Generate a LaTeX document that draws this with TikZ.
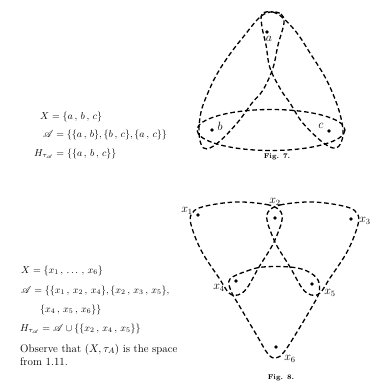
\documentclass[tikz,border=0pt]{standalone}
\usepackage{amsmath,amssymb,mathrsfs}
\begin{document}
\begin{tikzpicture}[x=1pt,y=-1pt,
  dsh/.style={line width=1.3pt, dash pattern=on 4.6pt off 2.8pt},
  pt/.style={circle, fill=black, inner sep=0pt, minimum size=3.6pt},
  lbl/.style={font=\fontsize{12}{14}\selectfont, inner sep=0pt},
  txt/.style={font=\fontsize{10}{12}\selectfont, anchor=base west, inner sep=0pt},
  ptxt/.style={font=\fontsize{11}{13}\selectfont, anchor=base west, inner sep=0pt},
  figlbl/.style={font=\fontsize{7}{8}\selectfont\bfseries, inner sep=0pt}]
\useasboundingbox[fill=white] (0,0) rectangle (374,383);

% ---------- texts, top ----------
\node[txt] (t1) at (40,119) {$X=\{a\,,\,b\,,\,c\}$};
\node[txt] (t2) at (43,137) {$\mathscr{A}=\{\{a\,,\,b\},\{b\,,\,c\},\{a\,,\,c\}\}$};
\node[txt] (t3) at (34,156) {$H_{\tau_{\mathscr{A}}}=\{\{a\,,\,b\,,\,c\}\}$};

% ---------- texts, bottom ----------
\node[txt] (u1) at (21,273) {$X=\{x_1\,,\,\ldots\,,\,x_6\}$};
\node[txt] (u2) at (21,293) {$\mathscr{A}=\{\{x_1\,,\,x_2\,,\,x_4\},\{x_2\,,\,x_3\,,\,x_5\},$};
\node[txt] (u3) at (40,312) {$\{x_4\,,\,x_5\,,\,x_6\}\}$};
\node[txt] (u4) at (20,331) {$H_{\tau_{\mathscr{A}}}=\mathscr{A}\cup\{\{x_2\,,\,x_4\,,\,x_5\}\}$};
\node[ptxt] (u5) at (20,352) {Observe that $(X,\tau_A)$ is the space};
\node[ptxt] (u6) at (20,365) {from 1.11.};

% ---------- Fig. 7 ----------
\draw[dsh] plot[smooth cycle, tension=0.6] coordinates {
 (270,12) (281,14) (284,23) (278,45) (273,68) (263,90) (252,103) (238,122) (220,141)
 (207,149) (201,144) (199,130) (201,112) (207,95) (217,74) (230,54) (244,36) (259,18)};
\draw[dsh] plot[smooth cycle, tension=0.6] coordinates {
 (262,14) (273,12) (283,18) (297,33) (310,53) (325,77) (335,99) (341,118)
 (343,135) (339,146) (333,148) (321,141) (302,122) (290,103) (281,90) (270,68) (266,45) (262,27)};
\draw[dsh] (271,130) ellipse [x radius=74, y radius=20.5];

\node[pt] (a) at (267,32) {};
\node[pt] (b) at (212,130) {};
\node[pt] (c) at (329,131) {};
\node[lbl] (la) at (269,39) {$a$};
\node[lbl] (lb) at (220,126) {$b$};
\node[lbl] (lc) at (321,126) {$c$};
\node[figlbl] (f7) at (277,157) {Fig. 7.};

% ---------- Fig. 8 ----------
\draw[dsh] plot[smooth cycle, tension=0.6] coordinates {
 (268,212) (280,205) (313,202) (347,207) (358,215) (357,228) (347,252) (330,278)
 (320,293) (311,295) (302,288) (290,267) (277,246) (270,230) (267,220)};
\draw[dsh] plot[smooth cycle, tension=0.6] coordinates {
 (281,212) (269,205) (236,202) (202,207) (191,215) (192,228) (202,252) (219,278)
 (229,293) (238,295) (247,288) (259,267) (272,246) (279,230) (282,220)};
\draw[dsh] plot[smooth cycle, tension=0.6] coordinates {
 (230,279) (247,271) (263,267) (290,267) (307,271) (318,280) (319,293) (313,305)
 (297,332) (284,352) (276,358) (268,354) (256,334) (240,307) (231,291)};

\node[pt] (x1) at (198,215) {};
\node[pt] (x2) at (275,218) {};
\node[pt] (x3) at (351,219) {};
\node[pt] (x4) at (236,281) {};
\node[pt] (x5) at (312,284) {};
\node[pt] (x6) at (276,347) {};
\node[lbl] (l1) at (187,211) {$x_1$};
\node[lbl] (l2) at (275,202) {$x_2$};
\node[lbl] (l3) at (365,221) {$x_3$};
\node[lbl] (l4) at (219,288) {$x_4$};
\node[lbl] (l5) at (330,293) {$x_5$};
\node[lbl] (l6) at (290,359) {$x_6$};
\node[figlbl] (f8) at (281,378) {Fig. 8.};
\end{tikzpicture}
\end{document}
